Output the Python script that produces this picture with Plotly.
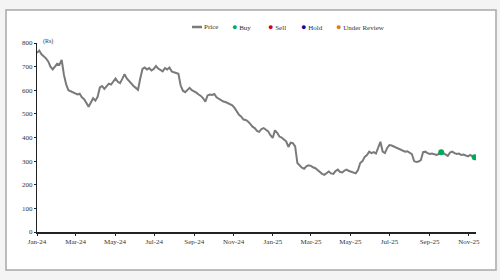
import pandas as pd
import plotly.graph_objects as go

price = [
    758, 768, 752, 745, 735, 722, 700, 688, 698, 712, 708, 728, 665, 625, 600, 596,
    592, 588, 582, 585, 570, 562, 545, 530, 548, 566, 556, 572, 612, 618, 606, 615,
    628, 624, 640, 650, 636, 630, 648, 668, 650, 638, 628, 618, 610, 602, 650, 690,
    696, 688, 694, 684, 690, 702, 692, 686, 680, 694, 688, 696, 680, 676, 674, 670,
    620, 598, 592, 602, 610, 600, 596, 590, 582, 576, 566, 552, 578, 582, 580, 584,
    570, 564, 558, 552, 550, 546, 540, 536, 525, 510, 496, 488, 476, 474, 468, 458,
    446, 440, 428, 424, 436, 440, 432, 426, 410, 398, 430, 420, 404, 400, 392, 384,
    360, 378, 376, 362, 292, 280, 272, 268, 278, 282, 280, 274, 270, 262, 252, 246,
    242, 250, 256, 248, 246, 258, 264, 254, 252, 260, 264, 258, 254, 250, 248, 262,
    292, 300, 318, 326, 340, 334, 338, 332, 360, 382, 340, 334, 356, 368, 366, 362,
    358, 354, 350, 346, 340, 342, 336, 330, 300, 296, 298, 304, 338, 340, 334, 330,
    332, 328, 326, 330, 338, 334, 326, 322, 336, 340, 334, 330, 332, 326, 328, 324,
    320, 326, 318, 314,
]
price_dates = pd.date_range("2024-01-01", "2025-11-10", periods=len(price))

buy_dates = ["2025-09-19", "2025-11-10"]
buy_values = [338, 316]

tick_dates = ["2024-01-01", "2024-03-01", "2024-05-01", "2024-07-01", "2024-09-01", "2024-11-01",
              "2025-01-01", "2025-03-01", "2025-05-01", "2025-07-01", "2025-09-01", "2025-11-01"]
tick_labels = ["Jan-24", "Mar-24", "May-24", "Jul-24", "Sep-24", "Nov-24",
               "Jan-25", "Mar-25", "May-25", "Jul-25", "Sep-25", "Nov-25"]
y_ticks = [0, 100, 200, 300, 400, 500, 600, 700, 800]

legend_names = ["Price", "Buy", "Sell", "Hold", "Under Review"]
legend_colors = ["#7a7a7a", "#00a859", "#d0021b", "#0a0aa8", "#e07b10"]

W, H = 500, 280
L, R, T, B = 37, 24, 43, 48
pw, ph = W - L - R, H - T - B


def px_x(p):
    return (p - L) / pw


def px_y(p):
    return (H - B - p) / ph


FONT = "Liberation Serif"

fig = go.Figure()
fig.add_trace(go.Scatter(x=price_dates, y=price, mode="lines",
                         line=dict(color="#7a7a7a", width=2), name="Price",
                         showlegend=False, hoverinfo="skip"))
fig.add_trace(go.Scatter(x=buy_dates, y=buy_values, mode="markers",
                         marker=dict(color="#00a859", size=6), name="Buy",
                         showlegend=False))

# panel background
fig.add_shape(type="rect", xref="paper", yref="paper",
              x0=px_x(6), x1=px_x(496), y0=px_y(270), y1=px_y(10),
              fillcolor="white", line=dict(color="#a8a8a8", width=1.5), layer="below")

# custom legend
legend_x = [192, 230, 266, 299, 334]
annotations = []
for i, (name, col) in enumerate(zip(legend_names, legend_colors)):
    if i == 0:
        fig.add_shape(type="line", xref="paper", yref="paper",
                      x0=px_x(legend_x[0]), x1=px_x(legend_x[0] + 10),
                      y0=px_y(27), y1=px_y(27), line=dict(color=col, width=2.5))
        annotations.append(dict(x=px_x(legend_x[0] + 10), y=px_y(27), xref="paper", yref="paper",
                                text=name, showarrow=False, xanchor="left", yanchor="middle",
                                font=dict(family=FONT, size=7, color="#333")))
    else:
        annotations.append(dict(x=px_x(legend_x[i]), y=px_y(27), xref="paper", yref="paper",
                                text=f"<span style='color:{col};font-size:9px'>●</span> {name}",
                                showarrow=False, xanchor="left", yanchor="middle",
                                font=dict(family=FONT, size=7, color="#333")))
annotations.append(dict(x=px_x(41), y=px_y(42), xref="paper", yref="paper", text="(Rs)",
                        showarrow=False, xanchor="left", yanchor="middle",
                        font=dict(family=FONT, size=6, color="#333")))

fig.update_layout(
    width=W, height=H,
    margin=dict(l=L, r=R, t=T, b=B),
    paper_bgcolor="#f4f4f4",
    plot_bgcolor="rgba(0,0,0,0)",
    showlegend=False,
    annotations=annotations,
    font=dict(family=FONT, size=7, color="#333"),
)
fig.update_xaxes(range=["2024-01-01", "2025-11-12"], tickvals=tick_dates, ticktext=tick_labels,
                 showgrid=False, zeroline=False, showline=True, linecolor="#222", linewidth=1.5,
                 ticks="outside", ticklen=2, tickcolor="#222", tickfont=dict(size=7))
fig.update_yaxes(range=[0, 800], tickvals=y_ticks, showgrid=False, zeroline=False,
                 showline=True, linecolor="#222", linewidth=1.2,
                 ticks="outside", ticklen=2, tickcolor="#222", tickfont=dict(size=7))

fig.write_html("out.html")
